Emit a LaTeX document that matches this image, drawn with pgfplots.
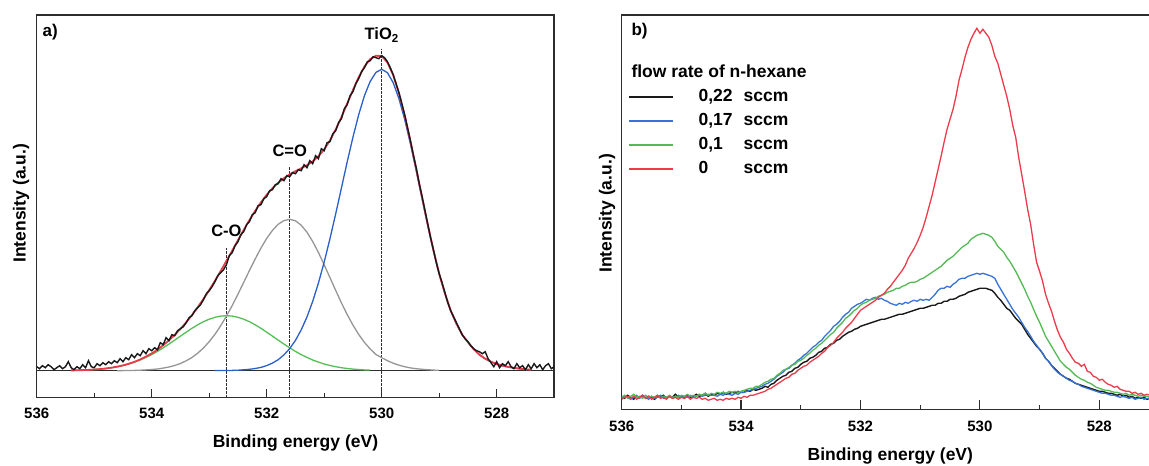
\documentclass[border=0pt]{standalone}
\usepackage{pgfplots}
\pgfplotsset{compat=1.18}
\usepackage{pgfplotstable}
\usepackage{fontspec}
\setmainfont{Liberation Sans}

\definecolor{cblue}{RGB}{43,95,200}
\definecolor{cgray}{RGB}{150,150,150}
\definecolor{cgreen}{RGB}{85,190,85}
\definecolor{cred}{RGB}{232,58,72}
\definecolor{cblack}{RGB}{25,25,25}
\definecolor{axcol}{RGB}{45,45,45}
\definecolor{bblue}{RGB}{55,115,215}
\definecolor{bgreen}{RGB}{85,185,85}
\definecolor{bred}{RGB}{235,60,75}

% panel a: measured spectrum
\pgfplotstableread{
E y
536.00 4
535.95 2
535.90 5
535.85 3
535.80 6
535.75 4
535.70 1
535.65 3
535.60 5
535.55 2
535.50 4
535.45 9
535.40 3
535.35 1
535.30 4
535.25 2
535.20 6
535.15 3
535.10 10
535.05 4
535.00 3
534.95 7
534.90 5
534.85 8
534.80 6
534.75 9
534.70 7
534.65 10
534.60 8
534.55 12
534.50 9
534.45 13
534.40 11
534.35 16
534.30 13
534.25 17
534.20 15
534.15 20
534.10 17
534.05 22
534.00 20
533.95 23
533.90 21
533.85 28
533.80 26
533.75 33
533.70 30
533.65 36
533.60 35
533.55 40
533.50 42
533.45 44
533.40 48
533.35 53
533.30 55
533.25 60
533.20 63
533.15 66
533.10 71
533.05 77
533.00 80
532.95 84
532.90 89
532.85 95
532.80 98
532.75 101
532.70 106
532.65 115
532.60 118
532.55 125
532.50 129
532.45 136
532.40 139
532.35 146
532.30 149
532.25 156
532.20 158
532.15 165
532.10 166
532.05 172
532.00 174
531.95 180
531.90 181
531.85 186
531.80 187
531.75 192
531.70 190
531.65 195
531.60 194
531.55 198
531.50 197
531.45 201
531.40 200
531.35 206
531.30 203
531.25 210
531.20 207
531.15 215
531.10 212
531.05 222
531.00 220
530.95 228
530.90 229
530.85 237
530.80 240
530.75 248
530.70 252
530.65 262
530.60 266
530.55 275
530.50 279
530.45 287
530.40 292
530.35 299
530.30 303
530.25 309
530.20 310
530.15 314
530.10 313
530.05 312
530.00 315
529.95 313
529.90 309
529.85 303
529.80 296
529.75 287
529.70 278
529.65 267
529.60 256
529.55 243
529.50 230
529.45 216
529.40 203
529.35 188
529.30 175
529.25 161
529.20 147
529.15 133
529.10 121
529.05 108
529.00 97
528.95 88
528.90 78
528.85 68
528.80 60
528.75 54
528.70 48
528.65 42
528.60 36
528.55 32
528.50 29
528.45 25
528.40 22
528.35 20
528.30 19
528.25 17
528.20 19
528.15 12
528.10 8
528.05 4
528.00 9
527.95 3
527.90 7
527.85 5
527.80 9
527.75 4
527.70 2
527.65 7
527.60 3
527.55 5
527.50 1
527.45 6
527.40 2
527.35 7
527.30 3
527.25 6
527.20 1
527.15 5
527.10 7
527.05 2
527.00 4
}\dataA

% panel a: fitted components (g = C-O, c = C=O, t = TiO2, s = sum)
\pgfplotstableread{
E g c t s
535.4 0.3 0 0 0.3
535.3 0.4 0 0 0.4
535.2 0.6 0 0 0.6
535.1 0.8 0 0 0.8
535.0 1.2 0 0 1.2
534.9 1.6 0 0 1.6
534.8 2.2 0 0 2.2
534.7 3.0 0 0 3.0
534.6 4.0 0 0 4.0
534.5 5.2 0.1 0 5.3
534.4 6.7 0.2 0 6.9
534.3 8.6 0.3 0 8.9
534.2 10.7 0.5 0 11.2
534.1 13.3 0.8 0 14.1
534.0 16.1 1.2 0 17.3
533.9 19.3 1.7 0 21.0
533.8 22.9 2.6 0 25.5
533.7 26.6 3.7 0 30.3
533.6 30.6 5.2 0 35.8
533.5 34.6 7.2 0 41.8
533.4 38.5 9.9 0 48.4
533.3 42.4 13.2 0 55.6
533.2 45.9 17.5 0 63.4
533.1 49.0 22.7 0 71.7
533.0 51.5 29.0 0 80.5
532.9 53.4 36.4 0.1 89.9
532.8 54.6 45.0 0.1 99.7
532.7 55.0 54.6 0.2 109.8
532.6 54.6 65.1 0.3 120.0
532.5 53.4 76.5 0.5 130.4
532.4 51.5 88.3 0.9 140.7
532.3 49.0 100.2 1.4 150.6
532.2 45.9 111.7 2.2 159.8
532.1 42.4 122.6 3.3 168.3
532.0 38.5 132.3 5.1 175.9
531.9 34.6 140.3 7.6 182.5
531.8 30.6 146.4 11.0 188.0
531.7 26.6 150.1 15.8 192.5
531.6 22.9 151.4 22.1 196.4
531.5 19.3 149.9 30.3 199.5
531.4 16.1 145.5 40.8 202.4
531.3 13.3 138.5 53.7 205.5
531.2 10.7 129.2 69.3 209.2
531.1 8.6 118.2 87.7 214.5
531.0 6.7 105.9 108.7 221.3
530.9 5.2 93.1 131.9 230.2
530.8 4.0 80.3 156.9 241.2
530.7 3.0 67.8 182.8 253.6
530.6 2.2 56.2 208.8 267.2
530.5 1.6 45.6 233.5 280.7
530.4 1.2 36.3 256.0 293.5
530.3 0.8 28.3 275.0 304.1
530.2 0.6 21.7 289.3 311.6
530.1 0.4 16.2 298.3 314.9
530.0 0.3 13.0 301.4 314.7
529.9 0.2 10.0 298.0 308.2
529.8 0.1 7.5 288.0 295.6
529.7 0.1 5.5 272.0 277.6
529.6 0 4.0 251.2 255.2
529.5 0 2.8 226.7 229.5
529.4 0 2.0 200.0 202.0
529.3 0 1.4 172.5 173.9
529.2 0 1.0 145.4 146.4
529.1 0 0.6 119.8 120.4
529.0 0 0.4 96.5 96.9
528.9 0 0.2 77.0 77.2
528.8 0 0.1 60.0 60.1
528.7 0 0 47.0 47.0
528.6 0 0 36.0 36.0
528.5 0 0 28.5 28.5
528.4 0 0 21.5 21.5
528.3 0 0 16.0 16.0
528.2 0 0 12.0 12.0
528.1 0 0 9.0 9.0
528.0 0 0 6.7 6.7
527.9 0 0 5.0 5.0
527.8 0 0 3.8 3.8
527.7 0 0 2.8 2.8
527.6 0 0 2.0 2.0
527.5 0 0 1.4 1.4
527.4 0 0 1.0 1.0
}\fitA

% panel b: k = 0,22 sccm, b = 0,17 sccm, g = 0,1 sccm, r = 0 sccm
\pgfplotstableread{
E k b g r
536.00 13 11 12 10
535.95 11 13 14 12
535.90 14 12 11 13
535.85 12 10 13 11
535.80 10 12 15 13
535.75 13 14 12 10
535.70 12 11 13 12
535.65 14 13 11 14
535.60 11 12 14 11
535.55 13 10 12 13
535.50 12 13 13 10
535.45 10 11 12 12
535.40 13 12 14 14
535.35 12 14 11 11
535.30 14 11 13 12
535.25 11 12 12 10
535.20 13 13 14 13
535.15 12 11 12 11
535.10 15 12 13 12
535.05 12 14 12 10
535.00 13 12 14 12
534.95 11 13 13 11
534.90 14 12 15 13
534.85 12 14 13 10
534.80 13 12 14 12
534.75 15 13 13 11
534.70 13 15 15 12
534.65 14 13 14 10
534.60 16 14 16 11
534.55 13 15 14 9
534.50 15 14 16 10
534.45 14 14 15 11
534.40 16 13 17 9
534.35 15 15 16 10
534.30 17 14 17 9
534.25 15 16 16 11
534.20 16 15 18 10
534.15 17 14 17 11
534.10 16 16 18 10
534.05 18 15 17 12
534.00 17 17 18 11
533.95 17 17 19 13
533.90 19 18 20 12
533.85 18 19 21 14
533.80 20 20 21 14
533.75 19 21 23 15
533.70 20 22 23 16
533.65 21 23 25 17
533.60 23 25 27 18
533.55 22 26 28 20
533.50 25 28 30 21
533.45 26 30 31 23
533.40 29 33 34 25
533.35 31 35 36 27
533.30 33 37 39 29
533.25 34 40 40 31
533.20 37 41 42 32
533.15 38 44 44 35
533.10 41 46 45 36
533.05 42 49 48 39
533.00 45 51 49 41
532.95 47 54 51 43
532.90 48 56 54 44
532.85 51 59 56 47
532.80 52 62 59 49
532.75 54 64 61 51
532.70 57 67 64 53
532.65 58 69 66 56
532.60 61 73 69 58
532.55 62 76 72 62
532.50 65 79 75 64
532.45 66 83 77 67
532.40 69 85 81 71
532.35 70 88 84 74
532.30 73 92 87 77
532.25 75 95 91 81
532.20 77 97 93 84
532.15 78 101 96 87
532.10 80 103 99 91
532.05 81 105 101 95
532.00 83 106 104 99
531.95 84 108 106 101
531.90 85 110 107 103
531.85 86 109 109 105
531.80 87 111 110 107
531.75 88 112 111 109
531.70 89 110 113 112
531.65 90 111 114 114
531.60 90 109 115 116
531.55 91 108 117 120
531.50 92 106 118 123
531.45 93 105 119 127
531.40 94 104 121 131
531.35 95 106 121 135
531.30 95 105 123 139
531.25 96 107 124 144
531.20 97 106 126 151
531.15 98 108 127 156
531.10 99 109 127 161
531.05 100 108 128 167
531.00 101 110 130 174
530.95 101 109 131 182
530.90 102 110 133 192
530.85 103 109 135 203
530.80 104 112 137 214
530.75 104 115 139 227
530.70 106 119 141 240
530.65 106 121 143 253
530.60 108 121 146 267
530.55 108 123 149 280
530.50 110 122 151 290
530.45 110 125 153 300
530.40 111 127 156 313
530.35 113 130 159 329
530.30 114 131 162 340
530.25 115 131 164 352
530.20 117 133 166 362
530.15 118 134 170 370
530.10 119 135 172 376
530.05 120 136 174 381
530.00 121 135 175 376
529.95 121 136 176 380
529.90 121 135 175 376
529.85 120 134 174 372
529.80 119 133 172 364
529.75 116 131 168 353
529.70 112 125 163 346
529.65 109 120 160 335
529.60 105 115 157 324
529.55 101 110 152 313
529.50 99 105 148 300
529.45 95 100 143 284
529.40 91 96 138 272
529.35 88 92 132 252
529.30 85 87 126 235
529.25 80 82 120 218
529.20 75 78 113 200
529.15 71 73 107 185
529.10 67 68 100 165
529.05 63 64 93 147
529.00 60 60 87 138
528.95 56 56 80 128
528.90 51 51 73 115
528.85 48 48 68 106
528.80 44 44 63 98
528.75 41 40 58 88
528.70 38 37 53 79
528.65 35 35 48 72
528.60 33 33 45 67
528.55 31 31 42 60
528.50 30 29 40 56
528.45 28 28 37 51
528.40 26 26 34 47
528.35 25 25 32 46
528.30 24 23 30 43
528.25 23 22 29 45
528.20 22 21 27 38
528.15 21 20 26 37
528.10 20 19 24 33
528.05 19 18 22 32
528.00 18 17 21 29
527.95 18 16 20 30
527.90 17 16 19 27
527.85 16 15 19 25
527.80 16 14 18 24
527.75 15 14 17 22
527.70 14 13 17 23
527.65 15 12 16 20
527.60 13 13 15 19
527.55 14 12 16 18
527.50 12 11 14 18
527.45 13 12 15 16
527.40 11 10 14 17
527.35 12 11 13 15
527.30 11 12 14 16
527.25 12 10 13 14
527.20 10 11 13 15
527.15 11 10 12 14
527.10 10 11 13 13
527.05 11 10 12 14
527.00 10 11 12 13
}\dataB

\pgfplotsset{
  xpsstyle/.style={
    scale only axis,
    x dir=reverse, xmin=527, xmax=536,
    ytick=\empty,
    xtick={528,530,532,534,536},
    minor xtick={527,529,531,533,535},
    xtick pos=left,
    tick align=inside,
    major tick length=9pt, minor tick length=4.5pt,
    tick style={axcol, line width=1.2pt},
    axis line style={axcol, line width=1.6pt},
    /pgf/number format/assume math mode=true,
    /pgf/number format/1000 sep={},
    ticklabel style={font=\fontsize{15}{18}\selectfont\bfseries},
    label style={font=\fontsize{17.5}{21}\selectfont\bfseries},
    xlabel={Binding energy (eV)},
    ylabel={Intensity (a.u.)},
  },
}

\begin{document}
\begin{tikzpicture}
\useasboundingbox (0pt,0pt) rectangle (1149pt,466pt);

% ---------------- panel a ----------------
\begin{axis}[xpsstyle,
  at={(36.7pt,68.3pt)}, anchor=south west,
  width=517.5pt, height=382.7pt,
  ymin=-27, ymax=355.7,
  xticklabel style={anchor=center, yshift=-15.6pt},
  xlabel style={at={(axis description cs:0.5,0)}, anchor=center, yshift=-45.6pt},
  ylabel style={at={(axis description cs:-0.0303,0.508)}, anchor=center},
]
\addplot[axcol, line width=1.2pt] coordinates {(536,0) (527,0)};
\addplot[axcol, line width=1.5pt, dash pattern=on 2.2pt off 1.8pt] coordinates {(532.7,-27) (532.7,122.4)};
\addplot[axcol, line width=1.5pt, dash pattern=on 2.2pt off 1.8pt] coordinates {(531.6,-27) (531.6,204)};
\addplot[axcol, line width=1.5pt, dash pattern=on 2.2pt off 1.8pt] coordinates {(530.0,-27) (530.0,322)};
\addplot[cgreen, line width=1.3pt, restrict x to domain=530.2:535.4] table[x=E, y=g] {\fitA};
\addplot[cgray, line width=1.3pt, restrict x to domain=529.0:534.6] table[x=E, y=c] {\fitA};
\addplot[cblue, line width=1.3pt, restrict x to domain=527.4:532.9] table[x=E, y=t] {\fitA};
\addplot[cred, line width=1.8pt] table[x=E, y=s] {\fitA};
\addplot[cblack, line width=1.4pt] table[x=E, y=y] {\dataA};
\node[anchor=base, font=\fontsize{16.5}{19}\selectfont\bfseries] at (axis cs:530.0,330.7) {TiO\textsubscript{2}};
\node[anchor=base, font=\fontsize{16.5}{19}\selectfont\bfseries] at (axis cs:531.6,214) {C=O};
\node[anchor=base, font=\fontsize{16.5}{19}\selectfont\bfseries] at (axis cs:532.7,134) {C-O};
\node[anchor=base west, font=\fontsize{17}{20}\selectfont\bfseries] at (rel axis cs:0,1) [xshift=2.5pt, yshift=-22pt] {a)};
\end{axis}

% ---------------- panel b ----------------
\begin{axis}[xpsstyle,
  at={(621.7pt,56.7pt)}, anchor=south west,
  width=537.3pt, height=394.3pt,
  ymin=0, ymax=394.3,
  xticklabel style={anchor=center, yshift=-17.4pt},
  xlabel style={at={(axis description cs:0.5,0)}, anchor=center, yshift=-46.7pt},
  ylabel style={at={(axis description cs:-0.0274,0.497)}, anchor=center},
  legend cell align=left,
  legend style={at={(axis description cs:0,1)}, anchor=north west,
    xshift=6.3pt, yshift=-73.3pt, draw=none, fill=none,
    inner sep=0pt, outer sep=0pt, row sep=7pt, column sep=0pt,
    nodes={inner sep=0pt, text height=13pt, text depth=4pt,
      font=\fontsize{17.5}{21}\selectfont\bfseries}},
  legend image code/.code={\draw[#1, line width=1.8pt] (0pt,0pt) -- (44pt,0pt); \path (0pt,0pt) (69pt,0pt);},
]
\addplot[cblack, line width=1.4pt] table[x=E, y=k] {\dataB};
\addlegendentry{\makebox[45pt][l]{0,22}sccm}
\addplot[bblue, line width=1.3pt] table[x=E, y=b] {\dataB};
\addlegendentry{\makebox[45pt][l]{0,17}sccm}
\addplot[bgreen, line width=1.3pt] table[x=E, y=g] {\dataB};
\addlegendentry{\makebox[45pt][l]{0,1}sccm}
\addplot[bred, line width=1.3pt] table[x=E, y=r] {\dataB};
\addlegendentry{\makebox[45pt][l]{0}sccm}
\node[anchor=base west, font=\fontsize{17.5}{21}\selectfont\bfseries] at (rel axis cs:0,1) [xshift=6.3pt, yshift=-62.3pt] {flow rate of n-hexane};
\node[anchor=base west, font=\fontsize{17}{20}\selectfont\bfseries] at (rel axis cs:0,1) [xshift=6.3pt, yshift=-20.5pt] {b)};
\end{axis}
\end{tikzpicture}
\end{document}
